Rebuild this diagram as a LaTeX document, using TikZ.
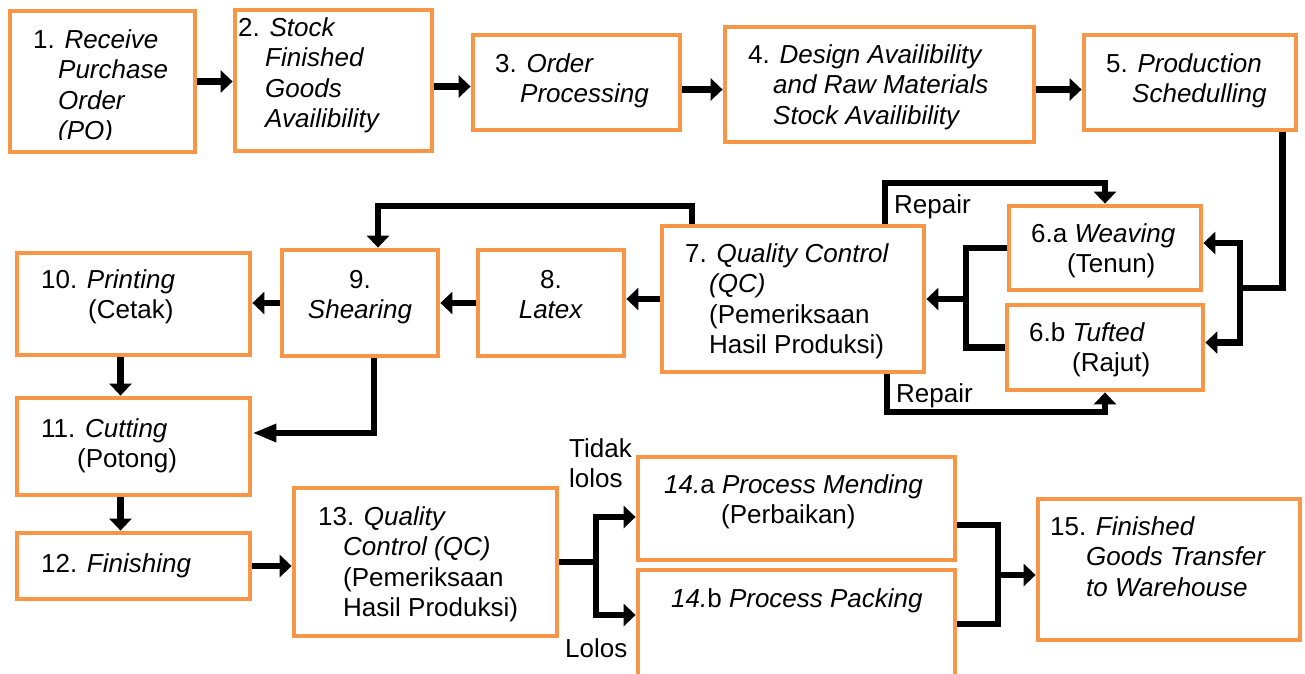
\documentclass[tikz,border=0pt]{standalone}
\usepackage{fontspec}
\setmainfont{Liberation Sans}
\usetikzlibrary{arrows.meta,backgrounds}
\definecolor{boxorange}{HTML}{F79646}
% left-aligned and centred stacks of lines, baseline on the first line
\newcommand\txtlines[1]{\begin{tabular}[t]{@{}l@{}}#1\end{tabular}}
\newcommand\txtcentre[1]{\begin{tabular}[t]{@{}c@{}}#1\end{tabular}}
\begin{document}
\begin{tikzpicture}[x=1pt,y=-1pt,
  box/.style={draw=boxorange, line width=4.8pt, fill=white, rectangle, inner sep=0pt},
  txt/.style={inner sep=0pt, anchor=base west, font=\fontsize{26}{30.5}\selectfont},
  ctxt/.style={txt, anchor=base},
  conn/.style={line width=6.5pt, line cap=rect, draw=black},
  arr/.style={conn, -{Triangle[length=12pt,width=22pt]}},
  arrlong/.style={conn, -{Triangle[length=24pt,width=17pt]}},
]
\useasboundingbox (0,0) rectangle (1305,673);

% process boxes
\node[box, minimum width=185pt, minimum height=141pt] (b1)  at (102.5,81.5) {};
\node[box, minimum width=197pt, minimum height=141pt] (b2)  at (333.5,80.5) {};
\node[box, minimum width=207pt, minimum height=95pt]  (b3)  at (576.5,82.5) {};
\node[box, minimum width=309pt, minimum height=115pt] (b4)  at (879.5,84.5) {};
\node[box, minimum width=212pt, minimum height=95pt]  (b5)  at (1190,82.5) {};
\node[box, minimum width=192pt, minimum height=84pt]  (b6a) at (1105,248) {};
\node[box, minimum width=196pt, minimum height=85pt]  (b6b) at (1105,347.5) {};
\node[box, minimum width=262pt, minimum height=146pt] (b7)  at (793,299) {};
\node[box, minimum width=146pt, minimum height=106pt] (b8)  at (551,303) {};
\node[box, minimum width=156pt, minimum height=106pt] (b9)  at (360,303) {};
\node[box, minimum width=233pt, minimum height=102pt] (b10) at (133.5,304) {};
\node[box, minimum width=233pt, minimum height=97pt]  (b11) at (133.5,446.5) {};
\node[box, minimum width=233pt, minimum height=66pt]  (b12) at (133.5,566) {};
\node[box, minimum width=263pt, minimum height=148pt] (b13) at (425.5,562) {};
\node[box, minimum width=317pt, minimum height=103pt] (b14a) at (796.5,508.5) {};
\node[box, minimum width=317pt, minimum height=120pt] (b14b) at (796.5,630) {};
\node[box, minimum width=262pt, minimum height=141pt] (b15) at (1169,569.5) {};

% box texts
\begin{scope}
  \clip (0,0) rectangle (200,139);
  \node[txt] (t1) at (33,48) {\txtlines{1. \textit{Receive}\\\hspace*{25pt}\textit{Purchase}\\\hspace*{25pt}\textit{Order}\\\hspace*{25pt}\textit{(PO)}}};
\end{scope}
\node[txt] (t2) at (238,36) {\txtlines{2. \textit{Stock}\\\hspace*{27pt}\textit{Finished}\\\hspace*{27pt}\textit{Goods}\\\hspace*{27pt}\textit{Availibility}}};
\node[txt] (t3) at (495,72) {\txtlines{3. \textit{Order}\\\hspace*{25pt}\textit{Processing}}};
\node[txt] (t4) at (748,63) {\txtlines{4. \textit{Design Availibility}\\\hspace*{25pt}\textit{and Raw Materials}\\\hspace*{25pt}\textit{Stock Availibility}}};
\node[txt] (t5) at (1106,72) {\txtlines{5. \textit{Production}\\\hspace*{26pt}\textit{Schedulling}}};
\node[txt] (t6a) at (1031,242) {\txtlines{6.a \textit{Weaving}\\\hspace*{36pt}(Tenun)}};
\node[txt] (t6b) at (1029,341) {\txtlines{6.b \textit{Tufted}\\\hspace*{43pt}(Rajut)}};
\node[txt] (t7) at (685,262) {\txtlines{7. \textit{Quality Control}\\\hspace*{24pt}\textit{(QC)}\\\hspace*{24pt}(Pemeriksaan\\\hspace*{24pt}Hasil Produksi)}};
\node[ctxt] (t8) at (551,288) {\txtcentre{8.\\\textit{Latex}}};
\node[ctxt] (t9) at (360,288) {\txtcentre{9.\\\textit{Shearing}}};
\node[txt] (t10) at (41,288) {\txtlines{10. \textit{Printing}\\\hspace*{47pt}(Cetak)}};
\node[txt] (t11) at (41,437) {\txtlines{11. \textit{Cutting}\\\hspace*{36pt}(Potong)}};
\node[txt] (t12) at (41,572) {12. \textit{Finishing}};
\node[txt] (t13) at (318,525) {\txtlines{13. \textit{Quality}\\\hspace*{25pt}\textit{Control (QC)}\\\hspace*{25pt}(Pemeriksaan\\\hspace*{25pt}Hasil Produksi)}};
\node[txt] (t14a) at (664,493) {\txtlines{\textit{14.}a \textit{Process Mending}\\\hspace*{57pt}(Perbaikan)}};
\node[txt] (t14b) at (671,607) {\textit{14.}b \textit{Process Packing}};
\node[txt] (t15) at (1050,535) {\txtlines{15. \textit{Finished}\\\hspace*{36pt}\textit{Goods Transfer}\\\hspace*{36pt}\textit{to Warehouse}}};

% connector labels
\node[txt] (rep1) at (894,213) {Repair};
\node[txt] (rep2) at (896,402) {Repair};
\node[txt] (fail) at (569,457) {\txtlines{Tidak\\lolos}};
\node[txt] (pass) at (565,657) {Lolos};

% junction and corner points
\coordinate (j5) at (1240,288);
\coordinate (j6) at (966,299);
\coordinate (r1) at (885,183);
\coordinate (r2) at (887,412);
\coordinate (r3) at (692,206);
\coordinate (j13) at (596,562);
\coordinate (j14) at (998,575);

\begin{scope}[on background layer]
  % top row
  \draw[arr] (b1.east) -- (b1.east -| b2.west);
  \draw[arr] ([yshift=-6pt]b2.east) -- ([yshift=-6pt]b2.east -| b3.west);
  \draw[arr] ([yshift=-7pt]b3.east) -- ([yshift=-7pt]b3.east -| b4.west);
  \draw[arr] ([yshift=-7pt]b5.west -| b4.east) -- ([yshift=-7pt]b5.west);
  % scheduling splits into weaving and tufting
  \draw[conn] ([xshift=-16pt]b5.south east) |- (j5);
  \draw[arr] (j5) |- ([yshift=5pt]b6a.east);
  \draw[arr] (j5) |- ([yshift=5pt]b6b.east);
  % both lines feed quality control
  \draw[conn] (b6a.west) -| (j6);
  \draw[conn] (b6b.west) -| (j6);
  \draw[arr] (j6) -- (j6 -| b7.east);
  % repair loops
  \draw[arr] (b7.north -| r1) -- (r1) -| (b6a.north);
  \draw[arr] (b7.south -| r2) -- (r2) -| (b6b.south);
  % quality control back to shearing
  \draw[arr] (b7.north -| r3) -- (r3) -| ([xshift=18pt]b9.north);
  % middle row, right to left
  \draw[arr] (b7.west) -- (b7.west -| b8.east);
  \draw[arr] (b8.west) -- (b9.east);
  \draw[arr] (b9.west) -- (b9.west -| b10.east);
  % left column
  \draw[arr] ([xshift=-13pt]b10.south) -- ([xshift=-13pt]b11.north);
  \draw[arrlong] ([xshift=14pt]b9.south) |- ([yshift=13.5pt]b11.east);
  \draw[arr] ([xshift=-13pt]b11.south) -- ([xshift=-13pt]b12.north);
  \draw[arr] (b12.east) -- (b12.east -| b13.west);
  % final quality control split
  \draw[conn] (b13.east) -- (j13);
  \draw[arr] (j13) |- ([yshift=-8.5pt]b14a.west);
  \draw[arr] (j13) |- ([yshift=15pt]b14b.west);
  % merge into warehouse transfer
  \draw[conn] ([yshift=-16.5pt]b14a.east) -| (j14);
  \draw[conn] ([yshift=6pt]b14b.east) -| (j14);
  \draw[arr] (j14) -- (j14 -| b15.west);
\end{scope}
\end{tikzpicture}
\end{document}
